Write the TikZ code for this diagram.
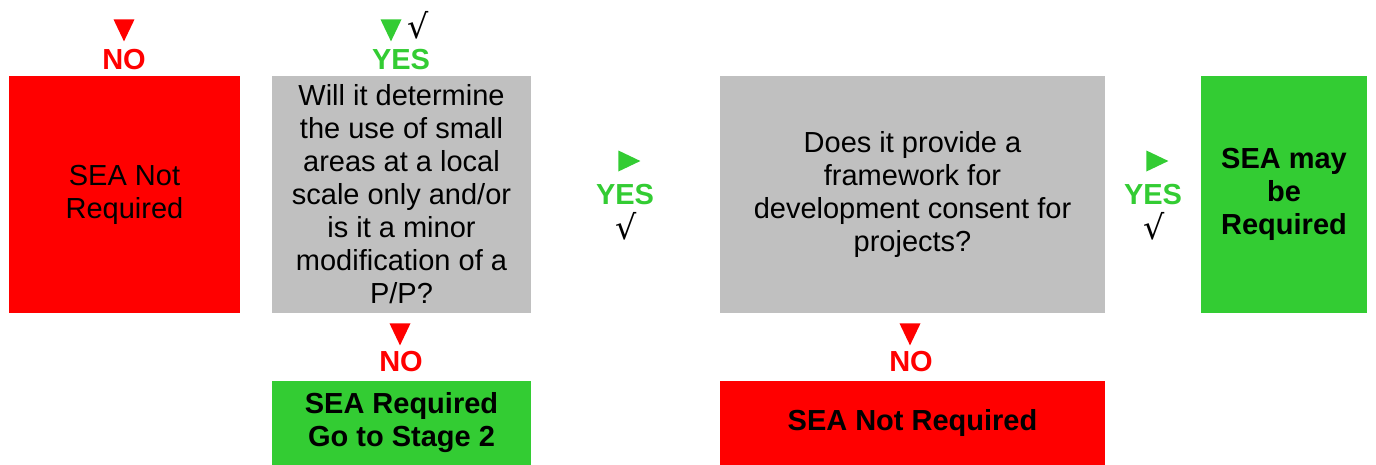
\documentclass[tikz,border=0pt]{standalone}
\usepackage{fontspec}
\setmainfont{Liberation Sans}
\newfontfamily\tickfont{DejaVu Serif}
\usetikzlibrary{positioning}
\usetikzlibrary{calc}
\usetikzlibrary{shapes.geometric}
\definecolor{sea red}{RGB}{255,0,0}
\definecolor{sea grey}{RGB}{192,192,192}
\definecolor{sea green}{RGB}{51,204,51}
\tikzset{
    % Common font for every text in the chart
    chart font/.style={font=\fontsize{16.5}{18.8}\selectfont},
%
    % Coloured blocks of the flow chart
    block/.style={chart font, align=center, inner sep=0pt,
        minimum height=4.74cm},
    stop block/.style={block, fill=sea red},
    ask block/.style={block, fill=sea grey},
    go block/.style={block, fill=sea green, font=\fontsize{16.5}{18.8}\selectfont\bfseries},
%
    % Small pointers with their answer words
    pointer/.style={isosceles triangle, isosceles triangle stretches, fill,
        inner sep=0pt, minimum width=0.42cm, minimum height=0.44cm},
    answer/.style={chart font, font=\fontsize{16.5}{18.8}\selectfont\bfseries, inner sep=0pt},
    tick/.style={inner sep=0pt, font=\tickfont\fontsize{19}{20}\selectfont}}

\begin{document}
\begin{tikzpicture}[x=0.02cm, y=-0.02cm]
\useasboundingbox (0,0) rectangle (1376,464);

% main row
\node [stop block, minimum width=4.62cm] (not req) at (124.5,194.5)
    {SEA Not\\Required};
\node [ask block, minimum width=5.18cm] (small areas) at (401.5,194.5)
    {Will it determine\\the use of small\\areas at a local\\scale only and/or\\is it a minor\\modification of a\\P/P?};
\node [ask block, minimum width=7.7cm] (framework) at (912.5,194.5)
    {Does it provide a\\framework for\\development consent for\\projects?};
\node [go block, minimum width=3.32cm] (may req) at (1284,194.5)
    {SEA may\\be\\Required};

% bottom row
\node [go block, minimum width=5.18cm, minimum height=1.68cm,
    below=1.34cm of small areas] (stage two) {SEA Required\\Go to Stage 2};
\node [stop block, minimum width=7.7cm, minimum height=1.68cm,
    font=\fontsize{16.5}{18.8}\selectfont\bfseries,
    below=1.34cm of framework] (bottom not req) {SEA Not Required};

% answers above the first two blocks
\node [pointer, sea red, rotate=-90] (no top tri) at (124,26) {};
\node [answer, sea red] (no top) at (124,60) {NO};
\node [pointer, sea green, rotate=-90] (yes top tri) at (391,26) {};
\node [tick] (yes top tick) at (418,25) {√};
\node [answer, sea green] (yes top) at (401,60) {YES};

% answers between the blocks
\node [pointer, sea green] (yes mid tri) at (625,161) {};
\node [answer, sea green] (yes mid) at (625,195) {YES};
\node [tick] (yes mid tick) at (626,226) {√};
\node [pointer, sea green] (yes right tri) at (1153,161) {};
\node [answer, sea green] (yes right) at (1153,195) {YES};
\node [tick] (yes right tick) at (1154,226) {√};

% answers below the question blocks
\node [pointer, sea red, rotate=-90] (no left tri) at (400,330) {};
\node [answer, sea red] (no left) at (401,362) {NO};
\node [pointer, sea red, rotate=-90] (no right tri) at (910,330) {};
\node [answer, sea red] (no right) at (911,362) {NO};

\end{tikzpicture}
\end{document}
